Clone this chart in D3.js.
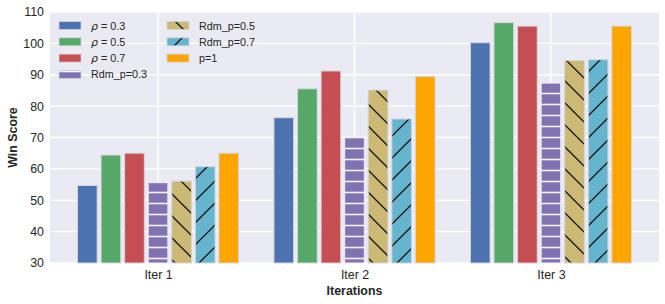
<!DOCTYPE html>
<html>
<head>
<meta charset="utf-8">
<script src="https://cdn.jsdelivr.net/npm/d3@7"></script>
<style>
  body { margin: 0; background: #fff; }
  text { font-family: "Liberation Sans", Arial, sans-serif; }
</style>
</head>
<body>
<div id="chart"></div>
<script>
const categories = ['Iter 1', 'Iter 2', 'Iter 3'];
const seriesNames = ['0.3', '0.5', '0.7', 'Rdm_p=0.3', 'Rdm_p=0.5', 'Rdm_p=0.7', 'p=1'];
const rho03 = [54.7, 76.3, 100.2];
const rho05 = [64.4, 85.5, 106.6];
const rho07 = [65.0, 91.2, 105.5];
const rdm03 = [55.6, 70.1, 87.4];
const rdm05 = [56.1, 85.1, 94.5];
const rdm07 = [60.7, 75.9, 94.8];
const pOne = [65.0, 89.4, 105.5];
const yTicks = [30, 40, 50, 60, 70, 80, 90, 100, 110];

const seriesValues = [rho03, rho05, rho07, rdm03, rdm05, rdm07, pOne];
const colors = ['#4C72B0', '#55A868', '#C44E52', '#8172B2', '#CCB974', '#64B5CD', '#FFA500'];
const hatches = [null, null, null, 'hatch-h', 'hatch-back', 'hatch-fwd', null];
const isRho = [true, true, true, false, false, false, false];

const width = 665, height = 304;
const margin = { top: 12, right: 6, bottom: 41, left: 50 };

const svg = d3.select('#chart').append('svg')
  .attr('width', width).attr('height', height);

// hatch patterns
const defs = svg.append('defs');
const ph = defs.append('pattern').attr('id', 'hatch-h')
  .attr('patternUnits', 'userSpaceOnUse').attr('width', 11).attr('height', 11);
ph.append('rect').attr('width', 11).attr('height', 11).attr('fill', colors[3]);
ph.append('line').attr('x1', 0).attr('x2', 11).attr('y1', 5.5).attr('y2', 5.5)
  .attr('stroke', '#f4f2fa').attr('stroke-width', 1.6);

const pb = defs.append('pattern').attr('id', 'hatch-back')
  .attr('patternUnits', 'userSpaceOnUse').attr('width', 22).attr('height', 22);
pb.append('rect').attr('width', 22).attr('height', 22).attr('fill', colors[4]);
pb.append('path').attr('d', 'M-2,-2L24,24M-2,20L2,24M20,-2L24,2')
  .attr('stroke', '#111').attr('stroke-width', 1.3);

const pf = defs.append('pattern').attr('id', 'hatch-fwd')
  .attr('patternUnits', 'userSpaceOnUse').attr('width', 22).attr('height', 22);
pf.append('rect').attr('width', 22).attr('height', 22).attr('fill', colors[5]);
pf.append('path').attr('d', 'M-2,24L24,-2M-2,2L2,-2M20,24L24,20')
  .attr('stroke', '#111').attr('stroke-width', 1.3);

const x = d3.scaleLinear().domain([-0.55, 2.55]).range([margin.left, width - margin.right]);
const y = d3.scaleLinear().domain([30, 110]).range([height - margin.bottom, margin.top]);

// background
svg.append('rect')
  .attr('x', margin.left).attr('y', margin.top)
  .attr('width', width - margin.left - margin.right)
  .attr('height', height - margin.top - margin.bottom)
  .attr('fill', '#EAEAF2');

// grid
svg.append('g').selectAll('line.hgrid').data(yTicks).join('line')
  .attr('x1', margin.left).attr('x2', width - margin.right)
  .attr('y1', d => y(d)).attr('y2', d => y(d))
  .attr('stroke', '#fff').attr('stroke-width', 1.4);
svg.append('g').selectAll('line.vgrid').data(categories).join('line')
  .attr('x1', (d, i) => x(i)).attr('x2', (d, i) => x(i))
  .attr('y1', margin.top).attr('y2', height - margin.bottom)
  .attr('stroke', '#fff').attr('stroke-width', 1.4);

// bars
const barW = 0.1, step = 0.12;
seriesValues.forEach((vals, s) => {
  svg.append('g').selectAll('rect').data(vals).join('rect')
    .attr('x', (d, i) => x(i + (s - 3) * step - barW / 2))
    .attr('width', x(barW) - x(0))
    .attr('y', d => y(d))
    .attr('height', d => y(30) - y(d))
    .attr('fill', hatches[s] ? `url(#${hatches[s]})` : colors[s])
    .attr('stroke', s === 3 ? '#f0eef6' : '#d4d4da').attr('stroke-width', 1);
});

// axes
const yAxis = svg.append('g')
  .attr('transform', `translate(${margin.left},0)`)
  .call(d3.axisLeft(y).tickValues(yTicks).tickSize(0).tickPadding(6));
yAxis.select('.domain').remove();
yAxis.selectAll('text').attr('font-size', 12.4).attr('fill', '#262626')
  .style('font-family', '"Liberation Sans", Arial, sans-serif');

const xAxis = svg.append('g')
  .attr('transform', `translate(0,${height - margin.bottom})`)
  .call(d3.axisBottom(x).tickValues([0, 1, 2]).tickFormat(i => categories[i]).tickSize(0).tickPadding(7));
xAxis.select('.domain').remove();
xAxis.selectAll('text').attr('font-size', 12.4).attr('fill', '#262626')
  .style('font-family', '"Liberation Sans", Arial, sans-serif');

// axis titles
svg.append('text')
  .attr('x', (margin.left + width - margin.right) / 2).attr('y', 295)
  .attr('text-anchor', 'middle').attr('font-size', 12.4).attr('font-weight', 'bold')
  .attr('fill', '#262626').text('Iterations');
svg.append('text')
  .attr('transform', `translate(17,${(margin.top + height - margin.bottom) / 2}) rotate(-90)`)
  .attr('text-anchor', 'middle').attr('font-size', 12.4).attr('font-weight', 'bold')
  .attr('fill', '#262626').text('Win Score');

// legend
const legendCols = [{ px: 59, tx: 91 }, { px: 167, tx: 199 }];
const rowY0 = 25.5, rowStep = 16.3;
seriesNames.forEach((name, s) => {
  const col = s < 4 ? 0 : 1;
  const row = s < 4 ? s : s - 4;
  const cy = rowY0 + row * rowStep;
  const lg = svg.append('g');
  lg.append('rect')
    .attr('x', legendCols[col].px).attr('y', cy - 4)
    .attr('width', 22).attr('height', 8)
    .attr('fill', hatches[s] ? `url(#${hatches[s]})` : colors[s])
    .attr('stroke', '#d4d4da').attr('stroke-width', 0.8);
  const t = lg.append('text')
    .attr('x', legendCols[col].tx).attr('y', cy + 4)
    .attr('font-size', 10.8).attr('fill', '#262626');
  if (isRho[s]) {
    t.append('tspan').attr('font-style', 'italic')
      .style('font-family', '"DejaVu Sans", sans-serif').attr('font-size', 11).text('ρ');
    t.append('tspan').text(' = ' + name);
  } else {
    t.text(name);
  }
});
</script>
</body>
</html>
